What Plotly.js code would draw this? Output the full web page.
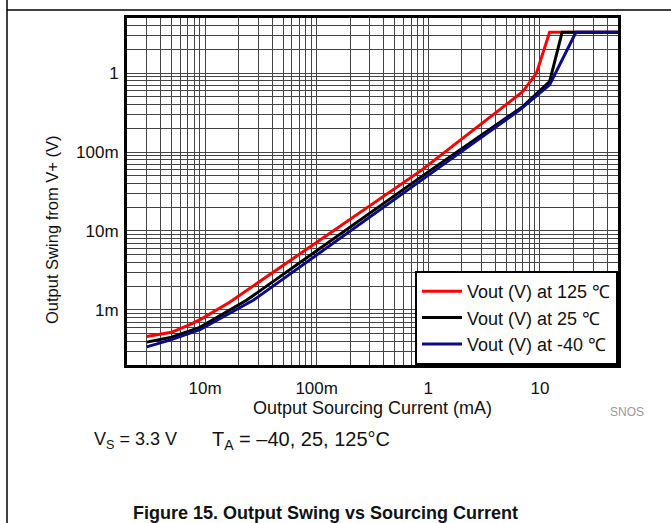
<!DOCTYPE html>
<html>
<head>
<meta charset="utf-8">
<script src="https://cdn.plot.ly/plotly-3.0.1.min.js"></script>
<style>html,body{margin:0;padding:0;background:#fff;}#chart{width:671px;height:523px;}</style>
</head>
<body>
<div id="chart"></div>
<script>
// Output sourcing current (mA) and output swing from V+ (V)
const current125 = [0.003, 0.005, 0.0073, 0.0093, 0.0166, 0.87, 7.0, 9.3, 12.2, 50];
const swing125   = [0.00046, 0.00052, 0.00065, 0.00077, 0.00125, 0.059, 0.58, 1.0, 3.3, 3.3];
const current25  = [0.003, 0.005, 0.009, 0.0235, 1.05, 7.0, 12.2, 15.8, 50];
const swing25    = [0.00039, 0.00045, 0.0006, 0.00132, 0.059, 0.376, 0.78, 3.3, 3.3];
const currentM40 = [0.003, 0.005, 0.009, 0.027, 1.16, 6.6, 12.2, 21, 50];
const swingM40   = [0.00034, 0.00042, 0.00056, 0.00132, 0.059, 0.342, 0.71, 3.3, 3.3];

const seriesNames = ['Vout (V) at 125 \u2103', 'Vout (V) at 25 \u2103', 'Vout (V) at -40 \u2103'];
const xTickVals = [0.01, 0.1, 1, 10];
const xTickText = ['10m', '100m', '1', '10'];
const yTickVals = [0.001, 0.01, 0.1, 1];
const yTickText = ['1m', '10m', '100m', '1'];

const FONT = 'Liberation Sans, Arial, sans-serif';

function gridTicks(loExp, hiExp, labVals, labText) {
  const vals = [], text = [];
  for (let e = loExp; e <= hiExp; e++) {
    for (let m = 1; m <= 9; m++) {
      const v = +(m * Math.pow(10, e)).toPrecision(6);
      vals.push(v);
      const idx = labVals.findIndex(t => Math.abs(t - v) / v < 1e-6);
      text.push(idx >= 0 ? labText[idx] : '');
    }
  }
  return {vals, text};
}
const xg = gridTicks(-3, 1, xTickVals, xTickText);
const yg = gridTicks(-4, 0, yTickVals, yTickText);

const traces = [
  {x: current125, y: swing125, name: seriesNames[0], mode: 'lines', line: {color: '#ff0000', width: 3}},
  {x: current25, y: swing25, name: seriesNames[1], mode: 'lines', line: {color: '#000000', width: 3}},
  {x: currentM40, y: swingM40, name: seriesNames[2], mode: 'lines', line: {color: '#0a0a8c', width: 3}}
];

const L = 127, R = 618, T = 18, B = 365;
const px = v => (v - L) / (R - L);
const py = v => (B - v) / (B - T);

const layout = {
  width: 671, height: 523,
  margin: {l: L, r: 671 - R, t: T, b: 523 - B, pad: 0},
  paper_bgcolor: '#ffffff', plot_bgcolor: '#ffffff',
  font: {family: FONT, size: 17, color: '#111'},
  showlegend: true,
  xaxis: {
    type: 'log', range: [Math.log10(0.002), Math.log10(50)],
    tickmode: 'array', tickvals: xg.vals, ticktext: xg.text,
    showgrid: true, gridcolor: '#444444', gridwidth: 1,
    showline: true, linecolor: '#000', linewidth: 3, mirror: true,
    ticks: '', zeroline: false, tickfont: {size: 17}, ticklabelstandoff: 6
  },
  yaxis: {
    type: 'log', range: [Math.log10(0.0002), Math.log10(5)],
    tickmode: 'array', tickvals: yg.vals, ticktext: yg.text,
    showgrid: true, gridcolor: '#444444', gridwidth: 1,
    showline: true, linecolor: '#000', linewidth: 3, mirror: true,
    ticks: '', zeroline: false, tickfont: {size: 17}, ticklabelstandoff: 2
  },
  legend: {
    x: 1, xanchor: 'right', y: 0, yanchor: 'bottom',
    bgcolor: '#ffffff', bordercolor: '#000', borderwidth: 2,
    font: {size: 18}, tracegroupgap: 0, itemwidth: 40
  },
  annotations: [
    {text: 'Output Swing from V+ (V)', textangle: -90, xref: 'paper', yref: 'paper',
     x: px(52), y: py(230), xanchor: 'center', yanchor: 'middle', showarrow: false, font: {size: 16.5}},
    {text: 'Output Sourcing Current (mA)', xref: 'paper', yref: 'paper',
     x: px(372), y: py(408), xanchor: 'center', yanchor: 'middle', showarrow: false, font: {size: 18}},
    {text: 'SNOS', xref: 'paper', yref: 'paper', x: px(627), y: py(412),
     xanchor: 'center', yanchor: 'middle', showarrow: false, font: {size: 12, color: '#9a9a9a'}},
    {text: 'V<sub>S</sub> = 3.3 V', xref: 'paper', yref: 'paper', x: px(92), y: py(440),
     xanchor: 'left', yanchor: 'middle', showarrow: false, font: {size: 18}},
    {text: 'T<sub>A</sub> = \u201340, 25, 125\u00b0C', xref: 'paper', yref: 'paper', x: px(210), y: py(440),
     xanchor: 'left', yanchor: 'middle', showarrow: false, font: {size: 20}},
    {text: '<b>Figure 15. Output Swing vs Sourcing Current</b>', xref: 'paper', yref: 'paper',
     x: px(325), y: py(513), xanchor: 'center', yanchor: 'middle', showarrow: false, font: {size: 18}}
  ],
  shapes: [
    {type: 'line', xref: 'paper', yref: 'paper', x0: px(7), x1: px(7), y0: py(523), y1: py(0),
     line: {color: '#000', width: 1.5}},
    {type: 'line', xref: 'paper', yref: 'paper', x0: px(7), x1: px(671), y0: py(10), y1: py(10),
     line: {color: '#000', width: 1.5}}
  ]
};

Plotly.newPlot('chart', traces, layout, {staticPlot: true, displayModeBar: false});
</script>
</body>
</html>
